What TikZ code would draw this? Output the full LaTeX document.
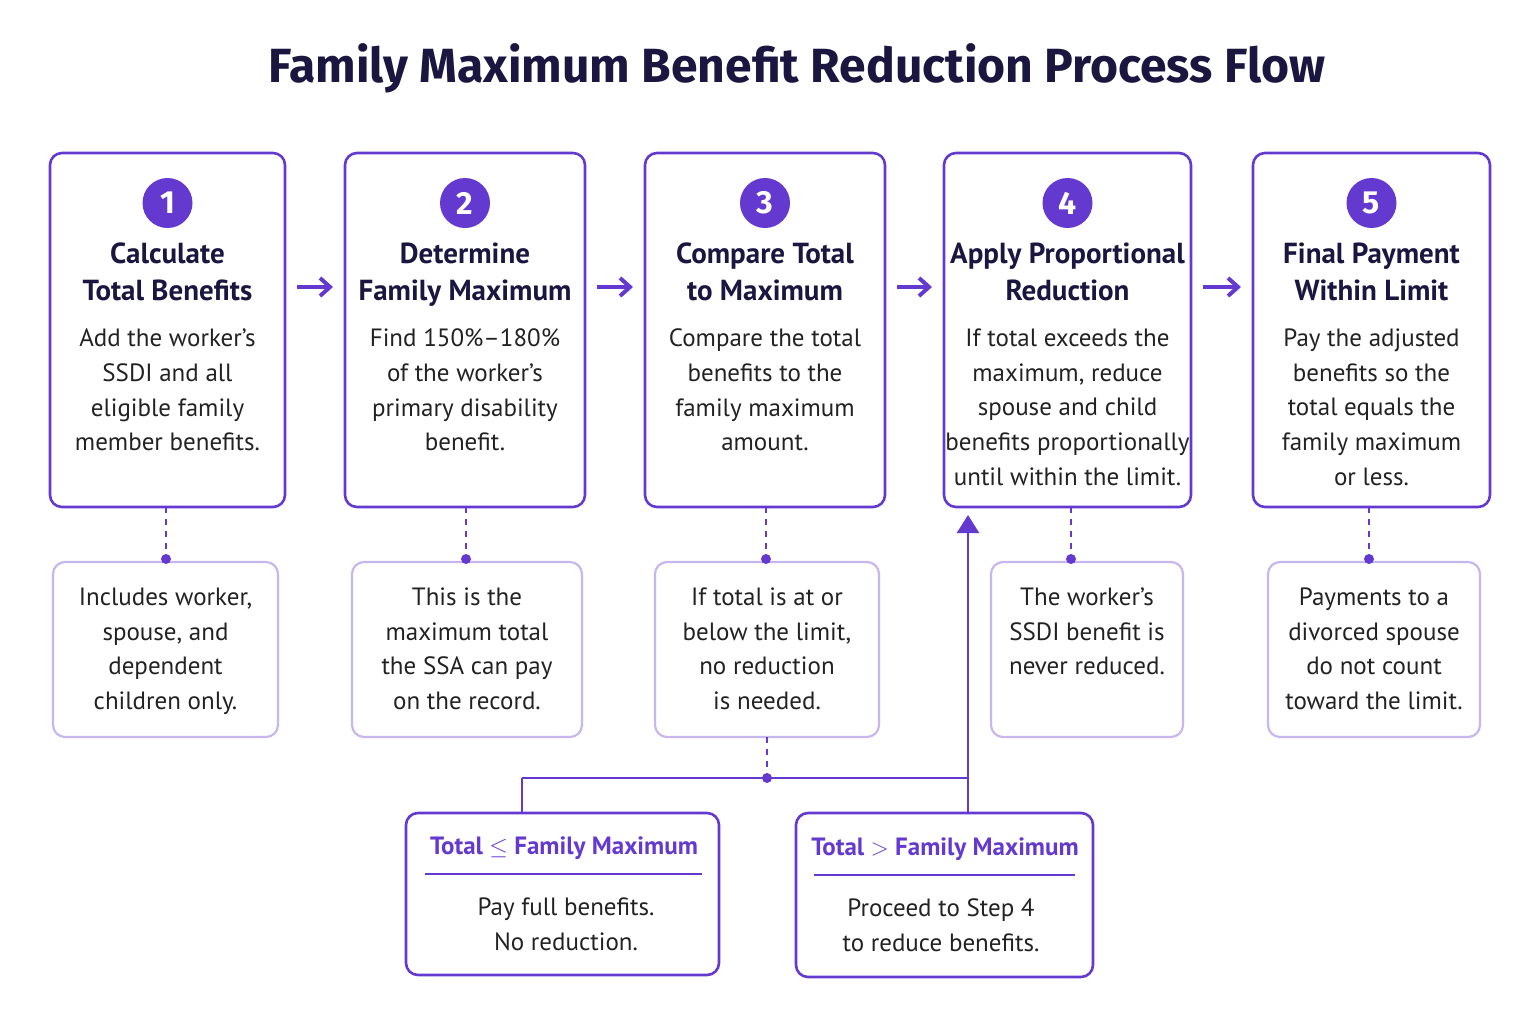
\documentclass[tikz,border=0pt]{standalone}
\usepackage{fontspec}
\setmainfont{PT Sans}
\newfontfamily\titlefont{Fira Sans}
\usetikzlibrary{arrows.meta}
\definecolor{ink}{HTML}{1B1640}
\definecolor{vio}{HTML}{6339CF}
\definecolor{violight}{HTML}{C8B6EE}
\definecolor{textc}{HTML}{222222}
\tikzset{
  fm stepbox/.style={draw=vio,line width=1.3pt,rounded corners=6pt},
  fm note/.style={draw=violight,line width=1.1pt,rounded corners=6pt},
  fm badge/.style={circle,fill=vio,minimum size=25pt,inner sep=0pt,text=white,font=\titlefont\bfseries\fontsize{16}{16}\selectfont},
  fm head/.style={align=center,text=ink,font=\bfseries\fontsize{14.5}{18.5}\selectfont},
  fm body/.style={align=center,text=textc,font=\fontsize{12.5}{17.3}\selectfont},
  fm sub/.style={text=vio,font=\bfseries\fontsize{12.5}{14}\selectfont},
  fm dashed/.style={vio,line width=1pt,dash pattern=on 3pt off 3pt},
  fm dot/.style={circle,fill=vio,inner sep=0pt,minimum size=5pt},
  fm link/.style={vio,line width=1.2pt},
  fm go/.style={vio,line width=2pt,-{Straight Barb[length=5pt,width=9pt]}}
}
\begin{document}
\begin{tikzpicture}[x=0.5pt,y=-0.5pt]
\useasboundingbox (0,0) rectangle (1536,1023);
% title
\node[text=ink,font=\titlefont\bfseries\fontsize{24}{24}\selectfont] (title) at (797,68) {Family Maximum Benefit Reduction Process Flow};

% main steps
\foreach \n/\xa/\xb/\hd/\bd in {
  1/50/285/{Calculate\\Total Benefits}/{Add the worker’s\\SSDI and all\\eligible family\\member benefits.},
  2/345/585/{Determine\\Family Maximum}/{Find 150\%–180\%\\of the worker’s\\primary disability\\benefit.},
  3/645/885/{Compare Total\\to Maximum}/{Compare the total\\benefits to the\\family maximum\\amount.},
  4/944/1191/{Apply Proportional\\Reduction}/{If total exceeds the\\maximum, reduce\\spouse and child\\benefits proportionally\\until within the limit.},
  5/1253/1490/{Final Payment\\Within Limit}/{Pay the adjusted\\benefits so the\\total equals the\\family maximum\\or less.}}{
  \draw[fm stepbox] (\xa,153) rectangle (\xb,507);
  \coordinate (s\n l) at (\xa,287);
  \coordinate (s\n r) at (\xb,287);
  \node[fm badge] (b\n) at ({(\xa+\xb)/2},203) {\n};
  \node[fm head,anchor=north] (h\n) at ({(\xa+\xb)/2},236) {\hd};
  \node[fm body,anchor=north] (t\n) at ({(\xa+\xb)/2},322) {\bd};
}

% arrows between steps
\foreach \a/\b in {1/2,2/3,3/4,4/5}{
  \draw[fm go] ([xshift=6pt]s\a r) -- ([xshift=-6pt]s\b l);
}

% notes
\foreach \n/\xa/\xb/\cx/\bd in {
  1/53/278/166/{Includes worker,\\spouse, and\\dependent\\children only.},
  2/352/582/466/{This is the\\maximum total\\the SSA can pay\\on the record.},
  3/655/879/766/{If total is at or\\below the limit,\\no reduction\\is needed.},
  4/991/1183/1071/{The worker’s\\SSDI benefit is\\never reduced.},
  5/1268/1480/1369/{Payments to a\\divorced spouse\\do not count\\toward the limit.}}{
  \draw[fm note] (\xa,562) rectangle (\xb,737);
  \node[fm body,anchor=north] (n\n) at ({(\xa+\xb)/2},581) {\bd};
  \node[fm dot] (d\n) at (\cx,559) {};
  \draw[fm dashed] (\cx,507) -- (d\n);
}

% decision split
\node[fm dot] (split) at (767,778) {};
\draw[fm dashed] (767,737) -- (split);
\coordinate (jl) at (522,778);
\coordinate (jr) at (968,778);
\coordinate (up) at (968,515);
\draw[fm link] (jl) -- (jr);
\draw[fm link] (jl) -- (522,813);
\draw[fm link] (jr) -- (968,813);
\draw[vio,line width=1.2pt,-{Triangle[length=9pt,width=11pt]}] (jr) -- (up);

% outcome boxes
\draw[fm stepbox] (406,813) rectangle (719,975);
\node[fm sub] (oa) at (564,848) {Total $\leq$ Family Maximum};
\draw[vio,line width=1.1pt] (425,874) -- (702,874);
\node[fm body,anchor=north] (oat) at (566,891) {Pay full benefits.\\No reduction.};

\draw[fm stepbox] (796,813) rectangle (1093,977);
\node[fm sub] (ob) at (945,849) {Total $>$ Family Maximum};
\draw[vio,line width=1.1pt] (814,875) -- (1075,875);
\node[fm body,anchor=north] (obt) at (941,892) {Proceed to Step 4\\to reduce benefits.};
\end{tikzpicture}
\end{document}
